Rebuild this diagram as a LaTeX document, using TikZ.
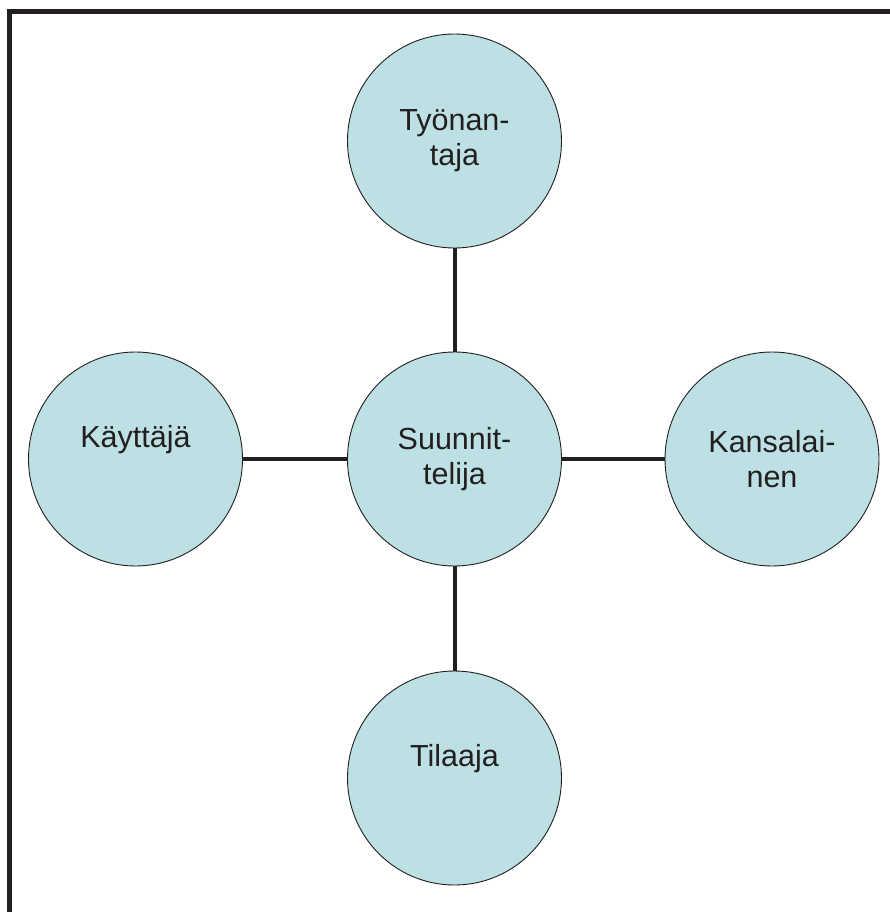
\documentclass[tikz,border=0pt]{standalone}
\usepackage{fontspec}
\setmainfont{Liberation Sans}
\definecolor{circfill}{HTML}{BCE0E3}
\definecolor{ink}{HTML}{231F20}
\begin{document}
\begin{tikzpicture}[x=1pt,y=-1pt,
  party/.style={circle, draw=ink, line width=0.9pt, fill=circfill, minimum size=214pt, inner sep=0pt,
    align=center, font=\fontsize{30.5}{35}\selectfont, text=ink},
  link/.style={draw=ink, line width=4pt},
  frame/.style={draw=ink, line width=5pt}]
\useasboundingbox (0,0) rectangle (890,912);
\draw[frame] (9.5,930) -- (9.5,11.5) -- (900,11.5);
\node[party] (s) at (454.5,459) {Suunnit-\\telija};
\node[party] (t) at (454.5,141) {Työnan-\\taja};
\node[party] (k) at (135.5,459) {Käyttäjä\\[0pt]\strut};
\node[party] (n) at (772,459) {Kansalai-\\nen};
\node[party] (l) at (454.5,778) {Tilaaja\\[0pt]\strut};
\draw[link] (t) -- (s);
\draw[link] (k) -- (s);
\draw[link] (s) -- (n);
\draw[link] (s) -- (l);
\end{tikzpicture}
\end{document}
